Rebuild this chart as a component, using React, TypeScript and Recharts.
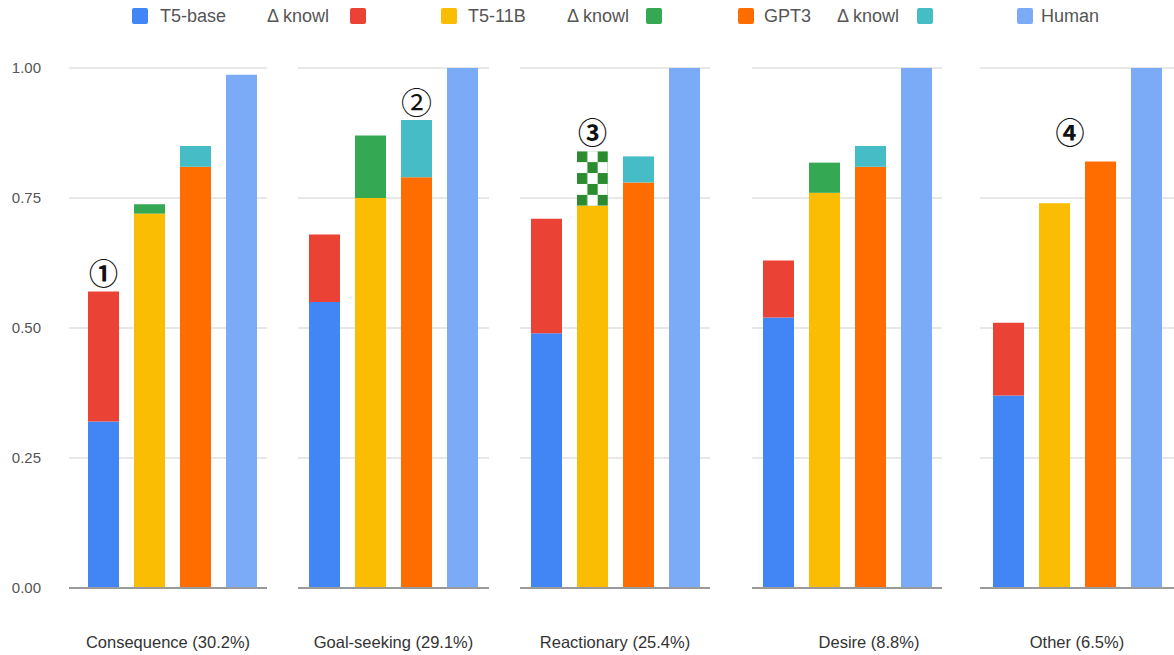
import { BarChart, Bar, XAxis, YAxis, CartesianGrid, ReferenceDot } from "recharts";

const categories = [
  "Consequence (30.2%)",
  "Goal-seeking (29.1%)",
  "Reactionary (25.4%)",
  "Desire (8.8%)",
  "Other (6.5%)",
];
const t5Base = [0.32, 0.55, 0.49, 0.52, 0.37];
const t5Knowl = [0.25, 0.13, 0.22, 0.11, 0.14];
const t511b = [0.72, 0.75, 0.735, 0.76, 0.74];
const t511bKnowl = [0.018, 0.12, 0.105, 0.058, 0];
const gpt3 = [0.81, 0.79, 0.78, 0.81, 0.82];
const gpt3Knowl = [0.04, 0.11, 0.05, 0.04, 0];
const human = [0.987, 1.0, 1.0, 1.0, 1.0];
const yTicks = [0, 0.25, 0.5, 0.75, 1];

// circled markers: on top of a series bar, or free-standing at a value
const markers = [
  { cat: 0, series: "t5Knowl", text: "①", bold: true },
  { cat: 1, series: "gpt3Knowl", text: "②", bold: false },
  { cat: 2, series: "t511bKnowl", text: "③", bold: true },
  { cat: 4, series: null, value: 0.878, text: "④", bold: true },
];

const COLORS = {
  t5Base: "#4285F4",
  t5Knowl: "#EA4335",
  t511b: "#FBBC04",
  t511bKnowl: "#34A853",
  gpt3: "#FF6D01",
  gpt3Knowl: "#46BDC6",
  human: "#7BAAF7",
};

const legendItems = [
  { text: "T5-base", color: COLORS.t5Base, swatchX: 132, textX: 160 },
  { text: "Δ knowl", color: COLORS.t5Knowl, swatchX: 350, textX: 267 },
  { text: "T5-11B", color: COLORS.t511b, swatchX: 441, textX: 468 },
  { text: "Δ knowl", color: COLORS.t511bKnowl, swatchX: 646, textX: 567 },
  { text: "GPT3", color: COLORS.gpt3, swatchX: 738, textX: 764 },
  { text: "Δ knowl", color: COLORS.gpt3Knowl, swatchX: 917, textX: 837 },
  { text: "Human", color: COLORS.human, swatchX: 1017, textX: 1041 },
];

// panel plot areas (left, width), shift of bars and of the category label
const panels = [
  { left: 69, width: 198, padLeft: 9, labelDx: -4.5 },
  { left: 298, width: 191, padLeft: 0, labelDx: 0 },
  { left: 520, width: 190, padLeft: 0, labelDx: 0 },
  { left: 752, width: 190, padLeft: 0, labelDx: 22 },
  { left: 980, width: 194, padLeft: 0, labelDx: 0 },
];

const rows = categories.map((name, i) => ({
  name,
  t5Base: t5Base[i],
  t5Knowl: t5Knowl[i],
  t511b: t511b[i],
  t511bKnowl: t511bKnowl[i],
  gpt3: gpt3[i],
  gpt3Knowl: gpt3Knowl[i],
  human: human[i],
}));

const FONT = "'Liberation Sans', Arial, sans-serif";
const Y_AXIS_W = 69;

function markerText(x: number, y: number, text: string, bold: boolean) {
  return (
    <text
      x={x}
      y={y}
      textAnchor="middle"
      dominantBaseline="central"
      fontFamily="'Noto Sans CJK JP', 'DejaVu Sans', sans-serif"
      fontWeight={bold ? 700 : 400}
      fontSize={bold ? 29 : 31}
      fill="#111"
    >
      {text}
    </text>
  );
}

function Panel({ idx }: { idx: number }) {
  const p = panels[idx];
  const first = idx === 0;
  const chartLeft = first ? 0 : p.left;
  const chartWidth = first ? p.left + p.width : p.width;
  const mk = markers.find((m) => m.cat === idx);

  const barLabel = (key: string) => {
    if (!mk || mk.series !== key) return undefined;
    return (props: any) =>
      markerText(props.x + props.width / 2, props.y - 20, mk.text, mk.bold);
  };

  const tick = (props: any) => (
    <text
      x={props.x + p.labelDx}
      y={props.y}
      dy="0.71em"
      textAnchor="middle"
      fontFamily={FONT}
      fontSize={16.5}
      fill="#333"
    >
      {props.payload.value}
    </text>
  );

  return (
    <div style={{ position: "absolute", left: chartLeft, top: 0 }}>
      <BarChart
        width={chartWidth}
        height={655}
        data={[rows[idx]]}
        margin={{ top: 68, right: 0, bottom: 0, left: 0 }}
        barSize={31}
        barGap={15}
      >
        <defs>
          <pattern
            id="checker"
            patternUnits="objectBoundingBox"
            patternContentUnits="objectBoundingBox"
            width={2 / 3}
            height={0.4}
          >
            <rect x={0} y={0} width={2 / 3} height={0.4} fill="#ffffff" />
            <rect x={0} y={0} width={1 / 3} height={0.2} fill="#2A8C2F" />
            <rect x={1 / 3} y={0.2} width={1 / 3} height={0.2} fill="#2A8C2F" />
          </pattern>
        </defs>
        <CartesianGrid vertical={false} stroke="#e0e0e0" strokeWidth={1.5} />
        <XAxis
          dataKey="name"
          height={67}
          interval={0}
          tickLine={false}
          tickSize={0}
          tickMargin={48}
          padding={{ left: p.padLeft, right: 0 }}
          axisLine={{ stroke: "#9a9a9a", strokeWidth: 2 }}
          tick={tick}
        />
        <YAxis
          hide={!first}
          width={first ? Y_AXIS_W : 0}
          domain={[0, 1]}
          ticks={yTicks}
          tickFormatter={(v: number) => v.toFixed(2)}
          axisLine={false}
          tickLine={false}
          tickSize={0}
          tickMargin={28}
          tick={{ fontFamily: FONT, fontSize: 15, fill: "#555" }}
        />
        <Bar dataKey="t5Base" stackId="t5" fill={COLORS.t5Base} isAnimationActive={false} />
        <Bar
          dataKey="t5Knowl"
          stackId="t5"
          fill={COLORS.t5Knowl}
          isAnimationActive={false}
          label={barLabel("t5Knowl")}
        />
        <Bar dataKey="t511b" stackId="t11" fill={COLORS.t511b} isAnimationActive={false} />
        <Bar
          dataKey="t511bKnowl"
          stackId="t11"
          fill={idx === 2 ? "url(#checker)" : COLORS.t511bKnowl}
          isAnimationActive={false}
          label={barLabel("t511bKnowl")}
        />
        <Bar dataKey="gpt3" stackId="gpt" fill={COLORS.gpt3} isAnimationActive={false} />
        <Bar
          dataKey="gpt3Knowl"
          stackId="gpt"
          fill={COLORS.gpt3Knowl}
          isAnimationActive={false}
          label={barLabel("gpt3Knowl")}
        />
        <Bar dataKey="human" stackId="hum" fill={COLORS.human} isAnimationActive={false} />
        {mk && mk.series === null && (
          <ReferenceDot
            x={categories[idx]}
            y={mk.value}
            r={0}
            shape={(props: any) => markerText(props.cx - 7, props.cy, mk.text, mk.bold)}
          />
        )}
      </BarChart>
    </div>
  );
}

export default function App() {
  return (
    <div
      style={{
        position: "absolute",
        left: 0,
        top: 0,
        width: 1174,
        height: 655,
        background: "#fff",
        overflow: "hidden",
      }}
    >
      {legendItems.map((it, i) => (
        <div key={i}>
          <div
            style={{
              position: "absolute",
              left: it.swatchX,
              top: 8,
              width: 16,
              height: 16,
              borderRadius: 2,
              background: it.color,
            }}
          />
          <div
            style={{
              position: "absolute",
              left: it.textX,
              top: 5,
              lineHeight: "22px",
              fontFamily: FONT,
              fontSize: 18,
              color: "#555",
              whiteSpace: "nowrap",
            }}
          >
            {it.text}
          </div>
        </div>
      ))}
      {categories.map((_, i) => (
        <Panel key={i} idx={i} />
      ))}
    </div>
  );
}
